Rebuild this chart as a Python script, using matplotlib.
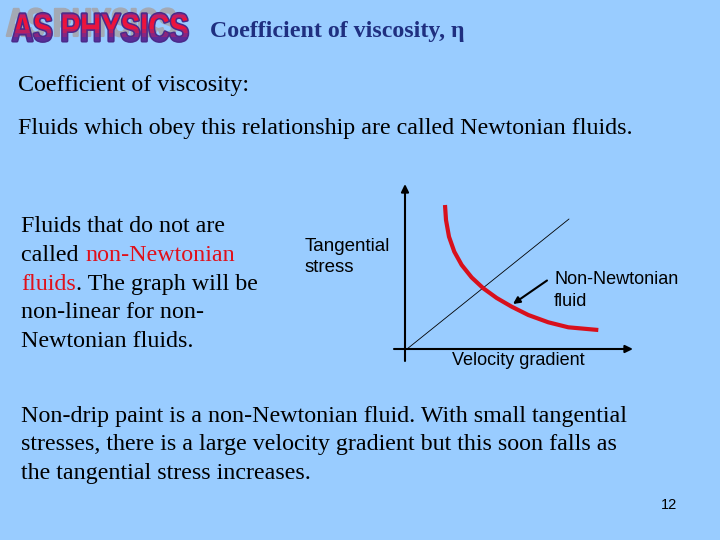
import matplotlib
matplotlib.use('Agg')
import matplotlib.pyplot as plt
import matplotlib.patheffects as pe
from matplotlib.colors import to_rgb
from matplotlib.transforms import Affine2D, Bbox

BG = '#99ccff'
SERIF = 'Liberation Serif'
SANS = 'Liberation Sans'

curve_x = [445, 446, 449, 454.3, 461.7, 471.7, 483.3, 496.7, 511.7, 528.3, 548.3, 568.3, 598.3]
curve_y = [205, 220, 236.7, 251.7, 265, 277.5, 288.3, 298, 306.7, 315, 322.3, 327.3, 330]
line_x = [407, 569]
line_y = [349, 219]

serif_lines = [
    ('Coefficient of viscosity:', 18, 91, 'black'),
    ('Fluids which obey this relationship are called Newtonian fluids.', 18, 134, 'black'),
    ('Fluids that do not are', 21, 232, 'black'),
    ('called ', 21, 261, 'black'),
    ('non-Newtonian', 85, 261, '#e0101a'),
    ('fluids', 21, 290, '#e0101a'),
    ('. The graph will be', 76, 290, 'black'),
    ('non-linear for non-', 21, 318, 'black'),
    ('Newtonian fluids.', 21, 347, 'black'),
    ('Non-drip paint is a non-Newtonian fluid. With small tangential', 21, 422, 'black'),
    ('stresses, there is a large velocity gradient but this soon falls as', 21, 450, 'black'),
    ('the tangential stress increases.', 21, 479, 'black'),
]
sans_lines = [
    ('Tangential', 305, 251, 13.5),
    ('stress', 305, 272, 13.5),
    ('Non-Newtonian', 554, 284, 13.0),
    ('fluid', 554, 306, 13.0),
    ('Velocity gradient', 452, 365, 13),
    ('12', 661, 509, 10.5),
]


class Squeezed(pe.AbstractPathEffect):
    """Narrow the logo lettering about x0; optional vertical colour bands."""
    def __init__(self, x0, sx, sy, y0, bands=None, stroke=None, lw=0):
        super().__init__()
        self.x0, self.sx, self.sy, self.y0 = x0, sx, sy, y0
        self.bands, self.stroke, self.lw = bands, stroke, lw

    def draw_path(self, renderer, gc, tpath, affine, rgbFace=None):
        tr = affine + Affine2D().translate(-self.x0, -self.y0).scale(self.sx, self.sy).translate(self.x0, self.y0)
        if self.stroke:
            g = renderer.new_gc()
            g.copy_properties(gc)
            g.set_linewidth(self.lw)
            g.set_foreground(self.stroke)
            renderer.draw_path(g, tpath, tr, to_rgb(self.stroke))
            g.restore()
        if self.bands:
            for (y0, y1, c) in self.bands:
                g = renderer.new_gc()
                g.copy_properties(gc)
                g.set_linewidth(0)
                g.set_clip_rectangle(Bbox([[0, y0], [720, y1]]))
                renderer.draw_path(g, tpath, tr, to_rgb(c))
                g.restore()
        else:
            renderer.draw_path(gc, tpath, tr, rgbFace)


fig = plt.figure(figsize=(7.2, 5.4), dpi=100, facecolor=BG)
ax = fig.add_axes([0, 0, 1, 1])
ax.set_xlim(0, 720)
ax.set_ylim(540, 0)
ax.axis('off')

# logo: grey shadow, then red/purple lettering
ax.text(6, 36, 'AS PHYSICS', family=SANS, weight='bold', fontsize=29, color='#a3a9b4',
        va='baseline', path_effects=[Squeezed(6, 0.70, 0.98, 540 - 36, stroke='#a3a9b4', lw=1.5)])
bands = [(494, 503, '#5a2c98'), (503, 507, '#8a2580'), (507, 511, '#b81f60'),
         (511, 517, '#e81540'), (517, 522, '#f01038'), (522, 525, '#c81c60'),
         (525, 528, '#9a2478'), (528, 536, '#702a90')]
ax.text(12, 41, 'AS PHYSICS', family=SANS, weight='bold', fontsize=29, color='#e01545',
        va='baseline', path_effects=[Squeezed(12, 0.725, 0.98, 540 - 41, bands=bands, stroke='#4a2a8a', lw=2.2)])

ax.text(210, 37, 'Coefficient of viscosity, η', family=SERIF, weight='bold', fontsize=17.2,
        color='#1f2f80', va='baseline')

for s, x, y, c in serif_lines:
    ax.text(x, y, s, family=SERIF, fontsize=17.3, color=c, va='baseline')
for s, x, y, fs in sans_lines:
    ax.text(x, y, s, family=SANS, fontsize=fs, color='black', va='baseline')

# graph
ax.plot(line_x, line_y, color='black', lw=0.6, solid_capstyle='round')
ax.plot(curve_x, curve_y, color='#d8101c', lw=3.0, solid_capstyle='butt', solid_joinstyle='round')
ax.annotate('', xy=(405, 184), xytext=(405, 361),
            arrowprops=dict(arrowstyle='-|>,head_width=0.22,head_length=0.45', color='black', lw=1.5,
                            shrinkA=0, shrinkB=0))
ax.annotate('', xy=(633, 349), xytext=(394, 349),
            arrowprops=dict(arrowstyle='-|>,head_width=0.22,head_length=0.45', color='black', lw=1.5,
                            shrinkA=0, shrinkB=0))
ax.annotate('', xy=(513, 304), xytext=(547, 280.5),
            arrowprops=dict(arrowstyle='-|>,head_width=0.2,head_length=0.4', color='black', lw=1.5,
                            shrinkA=0, shrinkB=0))

fig.savefig('out.png', dpi=100, facecolor=BG)
